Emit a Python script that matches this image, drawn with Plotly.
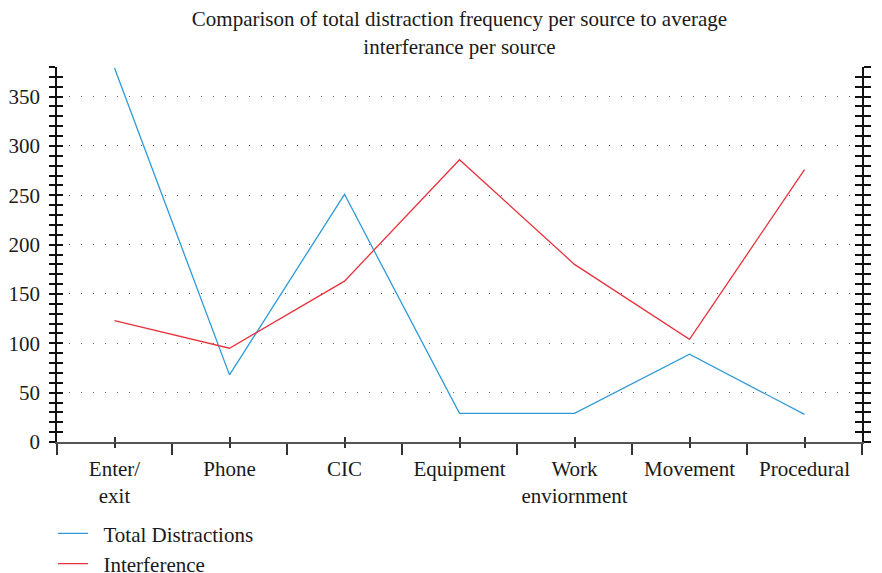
import plotly.graph_objects as go

categories = ["Enter/<br>exit", "Phone", "CIC", "Equipment", "Work<br>enviornment", "Movement", "Procedural"]
total_distractions = [379, 68, 251, 29, 29, 89, 28]
interference = [1.23, 0.95, 1.63, 2.86, 1.80, 1.04, 2.76]

left_ticks = [0, 50, 100, 150, 200, 250, 300, 350]
right_ticks = [0, 0.5, 1, 1.5, 2, 2.5, 3, 3.5]
right_labels = ["0", "0.5", "1.0", "1.5", "2.0", "2.5", "3.0", "3.5"]

FONT = "Liberation Serif"
BLUE = "#2E9BD8"
RED = "#E8333D"
TXT = "#1a1a1a"
PAD = "\u00a0\u00a0"

fig = go.Figure()
fig.add_trace(go.Scatter(x=categories, y=total_distractions, mode="lines", name=PAD + "Total Distractions",
                         line=dict(color=BLUE, width=1.3), xaxis="x", yaxis="y"))
fig.add_trace(go.Scatter(x=categories, y=interference, mode="lines", name=PAD + "Interference",
                         line=dict(color=RED, width=1.3), xaxis="x", yaxis="y2"))
# empty helper traces so the tick-only overlay axes get drawn
fig.add_trace(go.Scatter(x=[None], y=[None], xaxis="x2", yaxis="y3", showlegend=False, hoverinfo="skip"))
fig.add_trace(go.Scatter(x=[None], y=[None], xaxis="x3", yaxis="y4", showlegend=False, hoverinfo="skip"))

n = len(categories)
xr = [-0.5, n - 0.5]
idx = list(range(n))

# page body has an 8px margin, so figure coords are offset by -8
fig.update_layout(
    width=882, height=573,
    margin=dict(l=49, r=28, t=59, b=139, autoexpand=False),
    paper_bgcolor="white", plot_bgcolor="white",
    font=dict(family=FONT, size=21, color=TXT),
    title=dict(text="Comparison of total distraction frequency per source to average<br>interferance per source",
               x=0.5, xref="paper", xanchor="center", yref="container", y=0.968, yanchor="top",
               font=dict(family=FONT, size=21, color=TXT)),
    showlegend=True,
    legend=dict(x=-0.005, xanchor="left", y=-0.190, yanchor="top", orientation="v",
                font=dict(family=FONT, size=21, color=TXT), bgcolor="rgba(0,0,0,0)",
                tracegroupgap=0, itemwidth=30),
    xaxis=dict(type="category", range=xr, tickson="boundaries", ticks="outside", ticklen=11,
               tickcolor="#333", tickwidth=1.5, showline=True, linecolor="#555", linewidth=1.5,
               showgrid=False, zeroline=False, automargin=False, tickangle=0, ticklabelstandoff=7,
               tickfont=dict(size=21)),
    xaxis2=dict(overlaying="x", anchor="y", side="bottom", range=xr, tickmode="array", tickvals=idx,
                ticks="outside", ticklen=5, tickcolor="#333", tickwidth=1.5, showticklabels=False,
                showgrid=False, zeroline=False, showline=False, automargin=False),
    xaxis3=dict(overlaying="x", anchor="y", side="bottom", range=xr, tickmode="array", tickvals=idx,
                ticks="inside", ticklen=5, tickcolor="#333", tickwidth=1.5, showticklabels=False,
                showgrid=False, zeroline=False, showline=False, automargin=False),
    yaxis=dict(range=[0, 380], tickmode="array", tickvals=left_ticks, ticks="outside", ticklen=6,
               tickcolor="#111", tickwidth=1.5, showline=True, linecolor="#111", linewidth=1.8,
               showgrid=True, gridcolor="#666", gridwidth=1, griddash="1px,11px", zeroline=False,
               minor=dict(dtick=10, tick0=0, ticks="outside", ticklen=6, tickcolor="#111", tickwidth=1.5,
                          showgrid=False),
               automargin=False, ticklabelstandoff=5, tickfont=dict(size=21)),
    yaxis3=dict(overlaying="y", anchor="x2", side="left", range=[0, 380], dtick=10, tick0=0,
                ticks="inside", ticklen=6, tickcolor="#111", tickwidth=1.5, showticklabels=False,
                showgrid=False, zeroline=False, showline=False, automargin=False),
    yaxis2=dict(overlaying="y", anchor="x", side="right", range=[0, 3.8], tickmode="array",
                tickvals=right_ticks, ticktext=right_labels, ticks="outside", ticklen=7,
                tickcolor="#111", tickwidth=1.5, showline=True, linecolor="#111", linewidth=1.8,
                showgrid=False, zeroline=False,
                minor=dict(dtick=0.1, tick0=0, ticks="outside", ticklen=7, tickcolor="#111", tickwidth=1.5,
                           showgrid=False),
                automargin=False, ticklabelstandoff=9, tickfont=dict(size=21)),
    yaxis4=dict(overlaying="y", anchor="x3", side="right", range=[0, 3.8], dtick=0.1, tick0=0,
                ticks="inside", ticklen=7, tickcolor="#111", tickwidth=1.5, showticklabels=False,
                showgrid=False, zeroline=False, showline=False, automargin=False),
)

fig.write_html("out.html")
